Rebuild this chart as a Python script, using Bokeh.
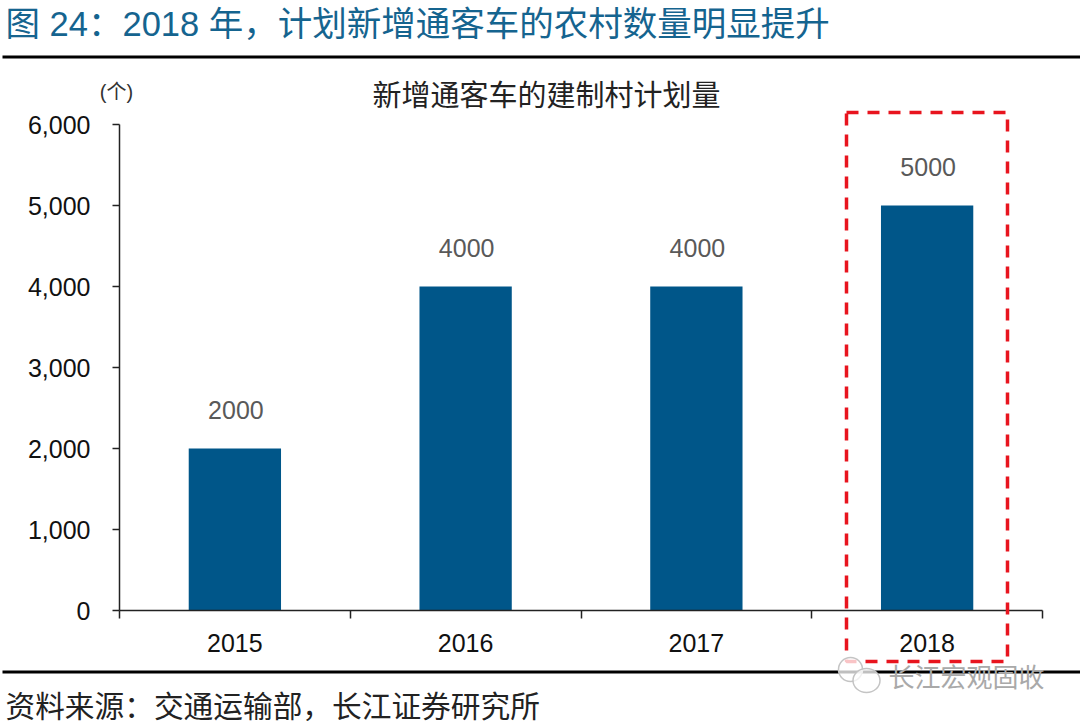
from bokeh.embed import file_html
from bokeh.resources import INLINE
from bokeh.plotting import figure
from bokeh.models import ColumnDataSource, Range1d, LinearAxis, FixedTicker, NumeralTickFormatter
from bokeh.core.properties import value

years = ["2015", "2016", "2017", "2018"]
planned = [2000, 4000, 4000, 5000]
y_ticks = [0, 1000, 2000, 3000, 4000, 5000, 6000]
heading = "图 24：2018 年，计划新增通客车的农村数量明显提升"
chart_title = "新增通客车的建制村计划量"
unit = "(个)"
source_note = "资料来源：交通运输部，长江证券研究所"
mark = "长江宏观固收"

FONT = "Liberation Sans, Noto Sans CJK SC"
W, H = 1080, 723
L, R, T, B = 119, 1042, 124, 610  # frame edges in pixels

p = figure(width=W, height=H, output_backend="svg", toolbar_location=None,
           x_range=Range1d(0, len(years)), y_range=Range1d(0, 6000),
           x_axis_location=None, y_axis_location=None)
p.min_border_left = L
p.min_border_right = W - R
p.min_border_top = T
p.min_border_bottom = H - B
p.outline_line_color = None
p.grid.visible = False
p.background_fill_color = "white"

centers = [i + 0.5 for i in range(len(years))]
src = ColumnDataSource(dict(x=centers, y=planned, t=[str(v) for v in planned]))
p.vbar(x="x", top="y", width=0.4, bottom=0, source=src, fill_color="#005689", line_color=None)
p.text(x="x", y="y", text="t", source=src, text_align="center", text_baseline="middle", y_offset=-39, x_offset=1,
       text_color="#595959", text_font=value(FONT), text_font_size="25px")

xa = LinearAxis(ticker=FixedTicker(ticks=centers, minor_ticks=list(range(len(years) + 1))))
xa.major_label_overrides = {c: y for c, y in zip(centers, years)}
xa.major_tick_line_color = None
xa.major_tick_in = 0
xa.major_tick_out = 0
xa.minor_tick_in = 0
xa.minor_tick_out = 8
xa.minor_tick_line_color = "#222222"
xa.minor_tick_line_width = 1.5
xa.axis_line_color = "#222222"
xa.axis_line_width = 1.5
xa.major_label_text_font = FONT
xa.major_label_text_font_size = "25px"
xa.major_label_text_color = "#111111"
xa.major_label_standoff = 15
p.add_layout(xa, "below")

ya = LinearAxis(ticker=FixedTicker(ticks=y_ticks), formatter=NumeralTickFormatter(format="0,0"))
ya.major_tick_in = 0
ya.major_tick_out = 7
ya.minor_tick_line_color = None
ya.major_tick_line_color = "#222222"
ya.major_tick_line_width = 1.5
ya.axis_line_color = "#222222"
ya.axis_line_width = 1.5
ya.major_label_text_font = FONT
ya.major_label_text_font_size = "25px"
ya.major_label_text_color = "#111111"
ya.major_label_standoff = 22
p.add_layout(ya, "left")

# Transparent page-sized layer: headings, rules, highlight box, source and watermark,
# none of which may be clipped to the plot frame.
o = figure(width=W, height=H, output_backend="svg", toolbar_location=None,
           x_range=Range1d(0, W), y_range=Range1d(H, 0),
           x_axis_location=None, y_axis_location=None,
           min_border=0, background_fill_color=None, border_fill_color=None, outline_line_color=None,
           styles={"position": "absolute", "left": "0px", "top": "0px"})
o.grid.visible = False


def lab(text, px, py, size, color, align="left"):
    o.text(x=[px], y=[py], text=[text], text_font=value(FONT), text_font_size=size, text_color=color,
           text_align=align, text_baseline="middle")


o.quad(left=[2, 2], right=[W, W], top=[55, 670], bottom=[58, 673], fill_color="black", line_color=None)
o.line(x=[846, 1007, 1007, 846, 846], y=[112, 112, 661, 661, 112], line_color="#e8141e", line_width=3.5,
       line_dash="12 9")
lab(heading, 5, 23, "34.5px", "#15648f")
lab(chart_title, 546, 95, "29px", "#222222", "center")
lab(unit, 116, 91, "20px", "#333333", "center")
lab(source_note, 5, 706, "29.7px", "#222222")
o.ellipse(x=[850, 866], y=[669, 680], width=[24, 27], height=[24, 24], fill_color="white", fill_alpha=0.75,
          line_color="#c4c4c4", line_width=1.5)
lab(mark, 966, 677, "26px", "#a9a9a9", "center")

open("out.html", "w").write(file_html([p, o], INLINE))
